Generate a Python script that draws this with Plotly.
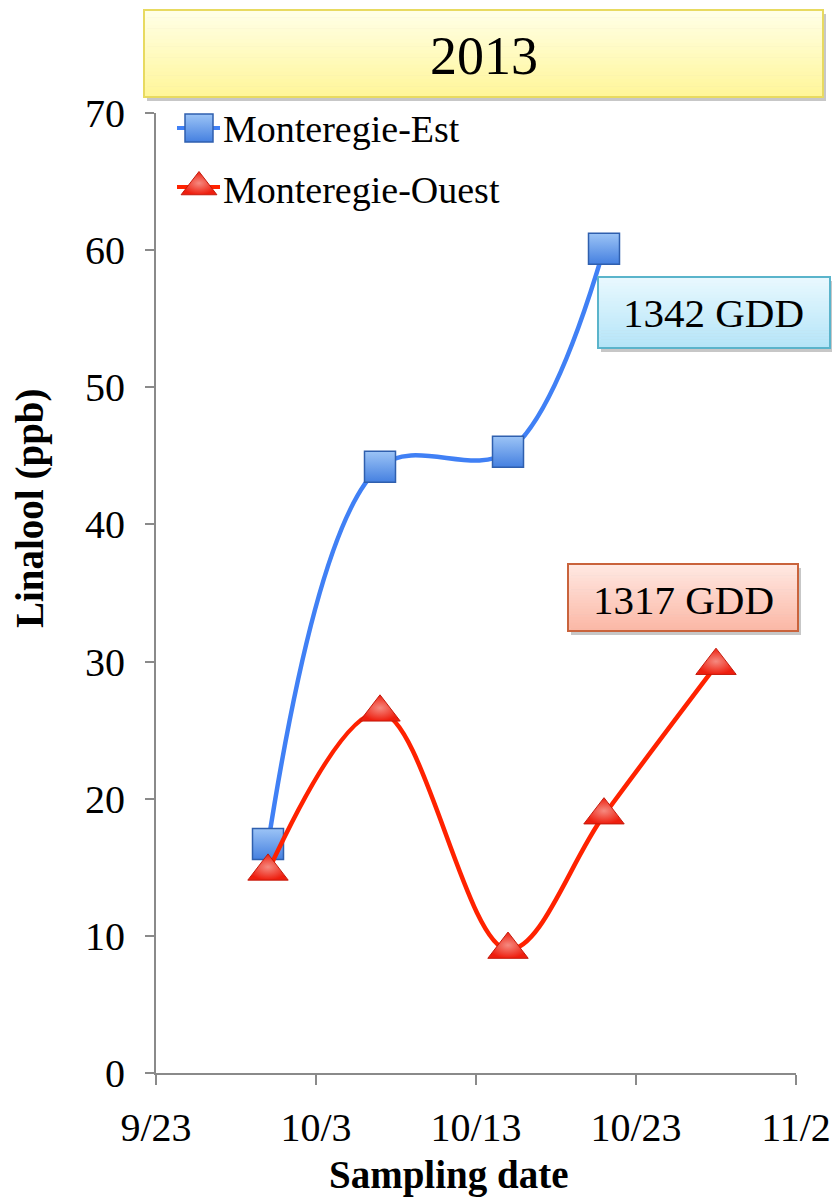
import plotly.graph_objects as go

# Sampling dates and linalool concentrations (ppb), 2013 season
dates_est = ["2013-09-30", "2013-10-07", "2013-10-15", "2013-10-21"]
linalool_est = [16.7, 44.2, 45.3, 60.1]

dates_ouest = ["2013-09-30", "2013-10-07", "2013-10-15", "2013-10-21", "2013-10-28"]
linalool_ouest = [14.7, 26.3, 9.0, 18.8, 29.7]

x_tickvals = ["2013-09-23", "2013-10-03", "2013-10-13", "2013-10-23", "2013-11-02"]
x_ticktext = ["9/23", "10/3", "10/13", "10/23", "11/2"]
y_tickvals = [0, 10, 20, 30, 40, 50, 60, 70]

series_names = ["Monteregie-Est", "Monteregie-Ouest"]

FONT = "Liberation Serif, Times New Roman, serif"

# Figure geometry (pixels) used to place decorations in paper coordinates
W, H = 832, 1199
L, R, T, B = 156, 36, 113, 126
PW, PH = W - L - R, H - T - B


def px(x):
    return (x - L) / PW


def py(y):
    return (H - B - y) / PH


def hexmix(c1, c2, t):
    a = [int(c1[i:i + 2], 16) for i in (1, 3, 5)]
    b = [int(c2[i:i + 2], 16) for i in (1, 3, 5)]
    return "#" + "".join(f"{round(a[k] + (b[k] - a[k]) * t):02x}" for k in range(3))


def gradient_box(x0, y0, x1, y1, top, bottom, border, steps=24):
    shapes = [dict(type="rect", xref="paper", yref="paper",
                   x0=px(x0 + 3), x1=px(x1 + 3), y0=py(y0 + 4), y1=py(y1 + 4),
                   fillcolor="rgba(0,0,0,0.22)", line=dict(width=0), layer="above")]
    h = (y1 - y0) / steps
    for i in range(steps):
        shapes.append(dict(type="rect", xref="paper", yref="paper",
                           x0=px(x0), x1=px(x1), y0=py(y0 + i * h), y1=py(y0 + (i + 1) * h + 0.6),
                           fillcolor=hexmix(top, bottom, i / (steps - 1)),
                           line=dict(width=0), layer="above"))
    shapes.append(dict(type="rect", xref="paper", yref="paper",
                       x0=px(x0), x1=px(x1), y0=py(y0), y1=py(y1),
                       fillcolor="rgba(0,0,0,0)", line=dict(color=border, width=2), layer="above"))
    return shapes


est_line = dict(color="#4080F5", width=4.5, shape="spline", smoothing=1.0)
est_marker = dict(symbol="square", size=31, color="#9CC4F6",
                  gradient=dict(type="vertical", color="#4580E0"),
                  line=dict(color="#2F5FAE", width=1.5))
ouest_line = dict(color="#FF2200", width=4.5, shape="spline", smoothing=1.0)
ouest_marker = dict(symbol="triangle-up", size=35, color="#EE1E0E",
                    gradient=dict(type="radial", color="#F58A80"),
                    line=dict(color="#C41A0C", width=1))

fig = go.Figure()

fig.add_trace(go.Scatter(
    x=dates_est, y=linalool_est, name=series_names[0], showlegend=False,
    mode="lines+markers", line=est_line, marker=est_marker,
))

fig.add_trace(go.Scatter(
    x=dates_ouest, y=linalool_ouest, name=series_names[1], showlegend=False,
    mode="lines+markers", line=ouest_line, marker=ouest_marker,
))

# Legend keys drawn on a hidden overlay axis measured in figure pixels
legend_rows = [
    (128, est_line, dict(est_marker, size=28)),
    (187, ouest_line, dict(ouest_marker, size=31)),
]
for yk, ln, mk in legend_rows:
    fig.add_trace(go.Scatter(x=[177, 220], y=[yk, yk], xaxis="x2", yaxis="y2",
                             mode="lines", line=dict(color=ln["color"], width=4),
                             showlegend=False, hoverinfo="skip"))
    fig.add_trace(go.Scatter(x=[199], y=[yk], xaxis="x2", yaxis="y2",
                             mode="markers", marker=mk,
                             showlegend=False, hoverinfo="skip"))

shapes = []
shapes += gradient_box(144, 10, 823, 97, "#FFFFE6", "#FFF69A", "#E8DA60")
shapes += gradient_box(598, 277, 830, 348, "#E8F8FE", "#B5E5F8", "#5AB4CB")
shapes += gradient_box(568, 564, 798, 631, "#FFE8E2", "#FBB8A6", "#C9633C")

annotations = [
    dict(text="2013", xref="paper", yref="paper", x=px(483.5), y=py(56),
         showarrow=False, font=dict(family=FONT, size=54, color="black"),
         xanchor="center", yanchor="middle"),
    dict(text="1342 GDD", xref="paper", yref="paper", x=px(713), y=py(313),
         showarrow=False, font=dict(family=FONT, size=41, color="black"),
         xanchor="center", yanchor="middle"),
    dict(text="1317 GDD", xref="paper", yref="paper", x=px(683), y=py(600),
         showarrow=False, font=dict(family=FONT, size=41, color="black"),
         xanchor="center", yanchor="middle"),
    dict(text="<b>Linalool (ppb)</b>", xref="paper", yref="paper", x=px(30), y=py(508),
         showarrow=False, textangle=-90, font=dict(family=FONT, size=39, color="black"),
         xanchor="center", yanchor="middle"),
    dict(text="<b>Sampling date</b>", xref="paper", yref="paper", x=px(448), y=py(1175),
         showarrow=False, font=dict(family=FONT, size=39, color="black"),
         xanchor="center", yanchor="middle"),
    dict(text=series_names[0], xref="paper", yref="paper", x=px(221), y=py(129),
         showarrow=False, font=dict(family=FONT, size=38, color="black"),
         xanchor="left", yanchor="middle"),
    dict(text=series_names[1], xref="paper", yref="paper", x=px(221), y=py(190),
         showarrow=False, font=dict(family=FONT, size=38, color="black"),
         xanchor="left", yanchor="middle"),
]

fig.update_layout(
    width=W, height=H,
    margin=dict(l=L, r=R, t=T, b=B, autoexpand=False),
    paper_bgcolor="white", plot_bgcolor="white",
    font=dict(family=FONT, color="black"),
    shapes=shapes,
    annotations=annotations,
    showlegend=False,
    xaxis=dict(type="date", range=["2013-09-23", "2013-11-02"],
               tickvals=x_tickvals, ticktext=x_ticktext, automargin=False,
               showgrid=False, zeroline=False,
               showline=True, linecolor="#8A8A8A", linewidth=2,
               ticks="outside", ticklen=10, tickwidth=2, tickcolor="#8A8A8A",
               ticklabelstandoff=8,
               tickfont=dict(family=FONT, size=40, color="black")),
    yaxis=dict(range=[0, 70], tickvals=y_tickvals, automargin=False,
               showgrid=False, zeroline=False,
               showline=True, linecolor="#8A8A8A", linewidth=2,
               ticks="outside", ticklen=9, tickwidth=2, tickcolor="#8A8A8A",
               ticklabelstandoff=12,
               tickfont=dict(family=FONT, size=40, color="black")),
    xaxis2=dict(overlaying="x", range=[L, L + PW], visible=False, fixedrange=True),
    yaxis2=dict(overlaying="y", range=[H - B, T], visible=False, fixedrange=True),
)

fig.write_html("out.html")
